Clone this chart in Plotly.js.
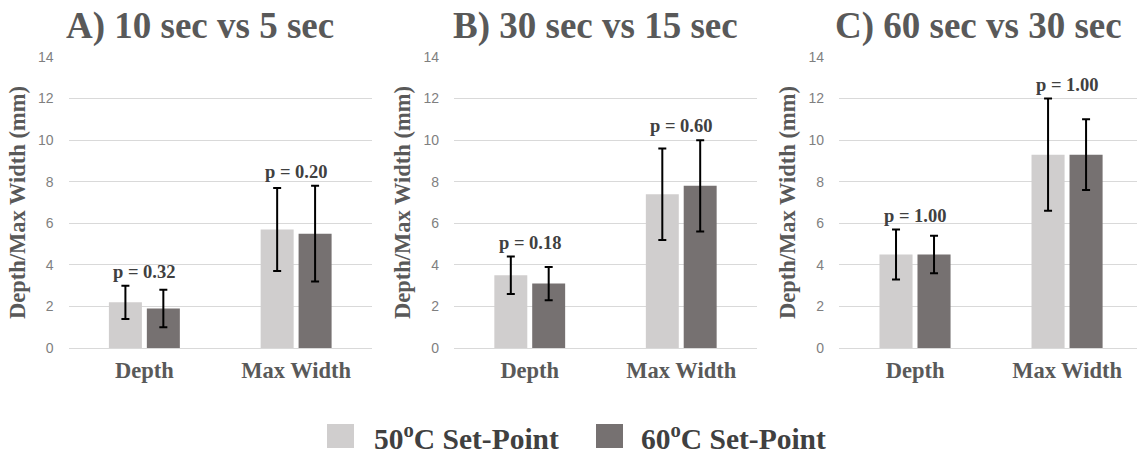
<!DOCTYPE html>
<html>
<head>
<meta charset="utf-8">
<script src="https://cdn.plot.ly/plotly-3.0.1.min.js"></script>
<style>html,body{margin:0;padding:0;background:#fff;}#chart{width:1137px;height:455px;}</style>
</head>
<body>
<div id="chart"></div>
<script>
// ---- data ----
const categories = ["Depth", "Max Width"];
const panelTitles = ["A) 10 sec vs 5 sec", "B) 30 sec vs 15 sec", "C) 60 sec vs 30 sec"];
const seriesNames = ["50<sup>o</sup>C Set-Point", "60<sup>o</sup>C Set-Point"];
const yTicks = [0, 2, 4, 6, 8, 10, 12, 14];
// means per panel [Depth, Max Width]
const mean50 = [[2.2, 5.7], [3.5, 7.4], [4.5, 9.3]];
const mean60 = [[1.9, 5.5], [3.1, 7.8], [4.5, 9.3]];
// error (±) per panel
const err50 = [[0.8, 2.0], [0.9, 2.2], [1.2, 2.7]];
const err60 = [[0.9, 2.3], [0.8, 2.2], [0.9, 1.7]];
// p-values per panel [Depth, Max Width]
const pValues = [["0.32", "0.20"], ["0.18", "0.60"], ["1.00", "1.00"]];

// ---- styles ----
const W = 1137, H = 455;
const colors = ["#d0cece", "#767171"];
const serif = "Liberation Serif, Times New Roman, serif";
const sans = "Liberation Sans, Arial, sans-serif";
const px = v => v / W;
const py = v => 1 - v / H;
const xDomains = [[px(68.5), px(372)], [px(454), px(757)], [px(839), 1]];
const xRanges = [[-0.5, 1.5], [-0.5, 1.5], [-0.5, 1.46]];
const titleX = [200, 595, 978];
const yDomain = [py(348), py(57)];

const traces = [];
const annotations = [];
const layout = {
  width: W, height: H,
  margin: {l: 0, r: 0, t: 0, b: 0},
  paper_bgcolor: "#fff", plot_bgcolor: "#fff",
  showlegend: false,
  barmode: "group", bargap: 0.5, bargroupgap: 0.13,
  annotations: annotations,
  shapes: []
};

for (let p = 0; p < 3; p++) {
  const sfx = p === 0 ? "" : String(p + 1);
  const xa = "x" + sfx, ya = "y" + sfx;
  [mean50, mean60].forEach((m, s) => {
    const e = s === 0 ? err50 : err60;
    traces.push({
      type: "bar", x: categories, y: m[p], name: seriesNames[s],
      xaxis: xa, yaxis: ya,
      marker: {color: colors[s], line: {width: 0}},
      error_y: {type: "data", array: e[p], visible: true, color: "#000", thickness: 2, width: 4},
      hoverinfo: "y"
    });
  });
  layout["xaxis" + sfx] = {
    domain: xDomains[p], range: xRanges[p], anchor: ya,
    type: "category", showgrid: false, zeroline: false, showline: false, ticks: "",
    ticklabelstandoff: 6,
    tickfont: {family: serif, size: 22.5, color: "#595959", weight: "bold"},
    fixedrange: true
  };
  layout["yaxis" + sfx] = {
    domain: yDomain, range: [0, 14], anchor: xa,
    tickvals: yTicks, ticktext: yTicks.map(String),
    showgrid: true, gridcolor: "#d9d9d9", gridwidth: 1,
    zeroline: true, zerolinecolor: "#d9d9d9", zerolinewidth: 1,
    showline: false, ticks: "", ticklabelstandoff: 14,
    tickfont: {family: sans, size: 14, color: "#7f7f7f"},
    title: {text: "Depth/Max Width (mm)", standoff: 6,
            font: {family: serif, size: 22.5, color: "#595959", weight: "bold"}},
    fixedrange: true
  };
  annotations.push({
    xref: "paper", yref: "paper", x: px(titleX[p]), y: py(25.5),
    xanchor: "center", yanchor: "middle", showarrow: false,
    text: panelTitles[p],
    font: {family: serif, size: 37, color: "#595959", weight: "bold"}
  });
  categories.forEach((c, i) => {
    const top = Math.max(mean50[p][i] + err50[p][i], mean60[p][i] + err60[p][i]);
    annotations.push({
      xref: xa, yref: ya, x: c, y: top, yanchor: "bottom", yshift: 2,
      showarrow: false, text: "p = " + pValues[p][i],
      font: {family: serif, size: 18.5, color: "#404040", weight: "bold"}
    });
  });
}

// legend (manual, large swatches)
const legX = [[327, 354, 372], [596, 623, 639]];
seriesNames.forEach((n, s) => {
  layout.shapes.push({
    type: "rect", xref: "paper", yref: "paper",
    x0: px(legX[s][0]), x1: px(legX[s][1]), y0: py(448), y1: py(424),
    fillcolor: colors[s], line: {width: 0}
  });
  annotations.push({
    xref: "paper", yref: "paper", x: px(legX[s][2]), y: py(437),
    xanchor: "left", yanchor: "middle", showarrow: false, text: n,
    font: {family: serif, size: 29.5, color: "#404040", weight: "bold"}
  });
});

Plotly.newPlot("chart", traces, layout, {displayModeBar: false, staticPlot: true});
</script>
</body>
</html>
